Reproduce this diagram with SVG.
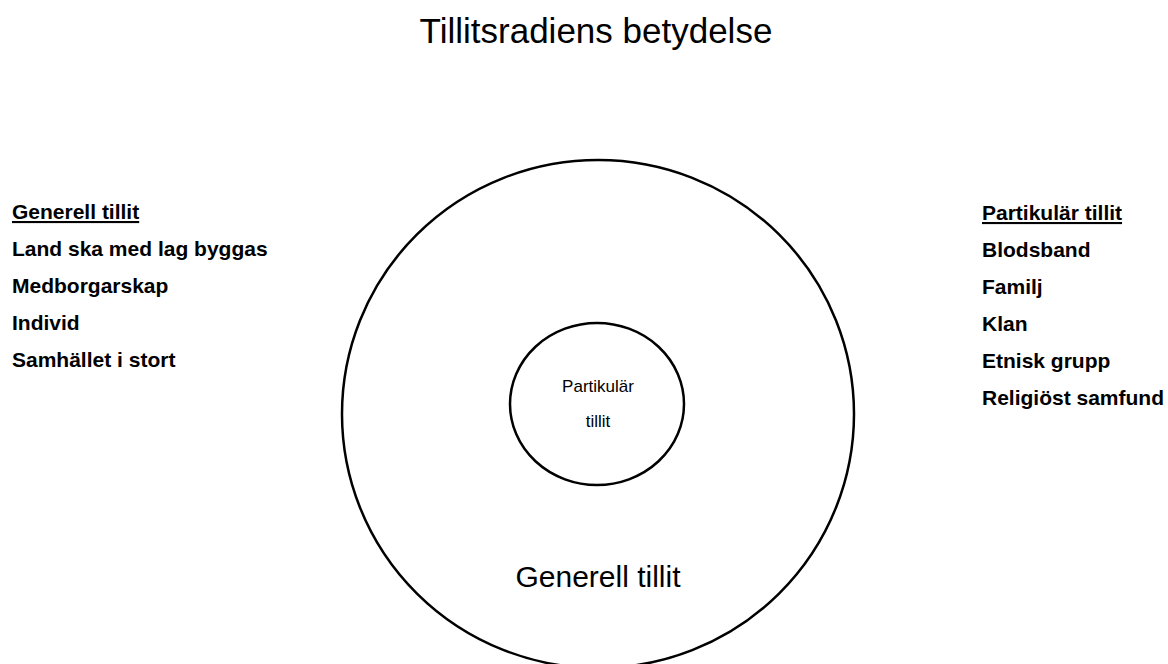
<svg xmlns="http://www.w3.org/2000/svg" width="1168" height="664" viewBox="0 0 1168 664">
<style>
text{font-family:"Liberation Sans",Arial,sans-serif;fill:#000}
.list{font-size:21px;font-weight:bold}
.u{text-decoration:underline}
.ring{fill:none;stroke:#000;stroke-width:2.5}
</style>
<rect width="1168" height="664" fill="#fff"/>
<text x="596" y="43" font-size="35" text-anchor="middle">Tillitsradiens betydelse</text>
<g id="outer">
<ellipse class="ring" cx="598" cy="414" rx="256" ry="254"/>
<text x="598" y="587" font-size="30" text-anchor="middle">Generell tillit</text>
</g>
<g id="inner">
<ellipse class="ring" cx="597" cy="404" rx="87" ry="81"/>
<text x="598" y="392" font-size="17" text-anchor="middle">Partikulär</text>
<text x="598" y="427" font-size="17" text-anchor="middle">tillit</text>
</g>
<g id="left-list">
<text x="12" y="219" class="list u">Generell tillit</text>
<text x="12" y="256" class="list">Land ska med lag byggas</text>
<text x="12" y="293" class="list">Medborgarskap</text>
<text x="12" y="330" class="list">Individ</text>
<text x="12" y="367" class="list">Samhället i stort</text>
</g>
<g id="right-list">
<text x="982" y="220" class="list u">Partikulär tillit</text>
<text x="982" y="257" class="list">Blodsband</text>
<text x="982" y="294" class="list">Familj</text>
<text x="982" y="331" class="list">Klan</text>
<text x="982" y="368" class="list">Etnisk grupp</text>
<text x="982" y="405" class="list">Religiöst samfund</text>
</g>
<g id="connectors"/>
</svg>
